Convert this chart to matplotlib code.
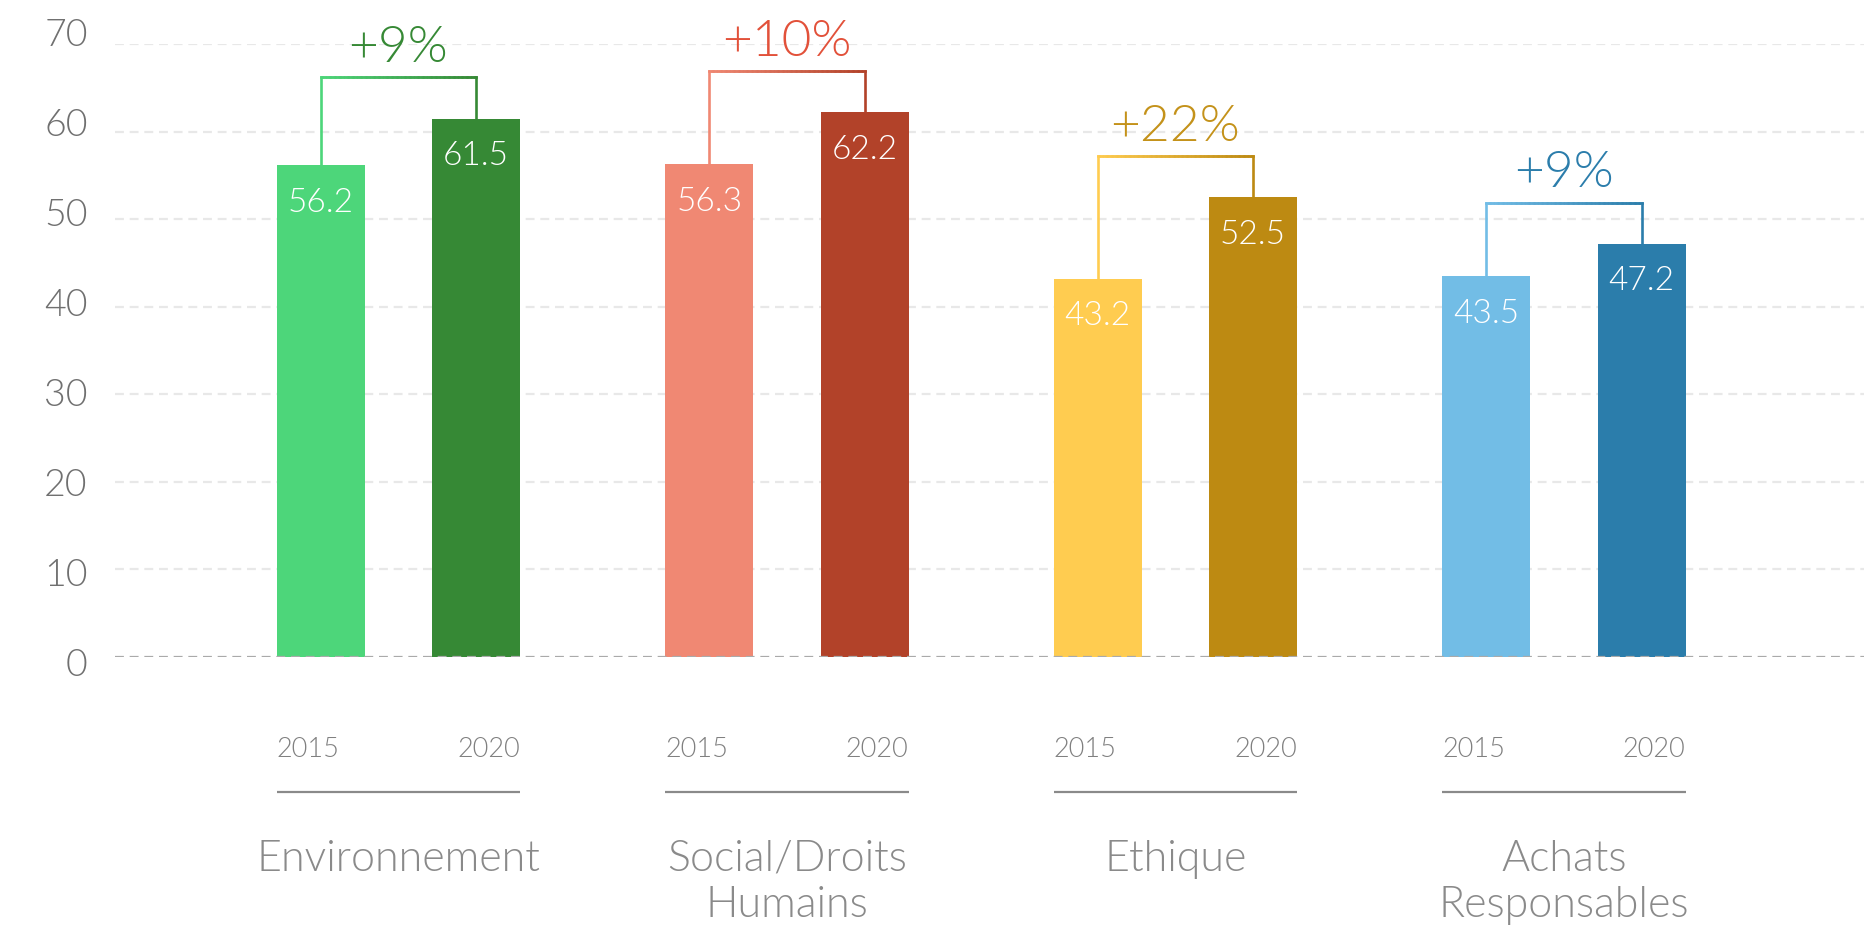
import matplotlib
matplotlib.use("Agg")
import matplotlib.pyplot as plt
import numpy as np
from matplotlib.collections import LineCollection
from matplotlib.colors import to_rgb

categories = ["Environnement", "Social/Droits\nHumains", "Ethique", "Achats\nResponsables"]
years = ["2015", "2020"]
values_2015 = [56.2, 56.3, 43.2, 43.5]
values_2020 = [61.5, 62.2, 52.5, 47.2]
growth_labels = ["+9%", "+10%", "+22%", "+9%"]
y_ticks = [0, 10, 20, 30, 40, 50, 60, 70]

light_colors = ["#4dd67a", "#f08873", "#ffcc50", "#72bde6"]
dark_colors = ["#368935", "#b24229", "#bd8a12", "#2b7dab"]
pct_colors = ["#368935", "#e2513a", "#c4921a", "#2b7dab"]

plt.rcParams['font.family'] = ['Lato', 'DejaVu Sans']
FW = 300

fig = plt.figure(figsize=(18.65, 9.28), dpi=100)
ax = fig.add_axes([115/1865, 1 - 657.7/928, 1 - 115/1865, (657.7 - 45.2)/928])
ax.set_xlim(-0.7297, 3.775)
ax.set_ylim(0, 70)
for s in ax.spines.values():
    s.set_visible(False)
ax.set_xticks([])
ax.set_yticks([])

grey_txt = "#707070"
# gridlines
for v in y_ticks:
    if v == 0:
        ax.axhline(v, color="#aaaaaa", lw=1.6, ls=(0, (4, 2.6)), zorder=3)
    else:
        ax.axhline(v, color="#e8e8e8", lw=1.6, ls=(0, (4, 2.6)), zorder=0)
    ax.text(-0.80, -0.95 + v * 1.029, str(v), ha="right", va="center",
            fontsize=27, color=grey_txt, fontweight=FW, clip_on=False)

x = np.arange(len(categories))
off = 0.2
w = 0.2265
b1 = ax.bar(x - off, values_2015, width=w, color=light_colors, zorder=2)
b2 = ax.bar(x + off, values_2020, width=w, color=dark_colors, zorder=2)

for i in range(len(categories)):
    for xx, val in ((x[i] - off, values_2015[i]), (x[i] + off, values_2020[i])):
        ax.text(xx, val - 4.2, f"{val:.1f}", ha="center", va="center",
                fontsize=24, color="white", fontweight=FW, zorder=4)
    # bracket
    yb = max(values_2015[i], values_2020[i]) + 4.7
    x1, x2 = x[i] - off, x[i] + off
    c1 = np.array(to_rgb(light_colors[i]))
    c2 = np.array(to_rgb(dark_colors[i]))
    segs, cols = [], []
    segs.append([(x1, values_2015[i]), (x1, yb)])
    cols.append(c1)
    n = 60
    xs = np.linspace(x1, x2, n + 1)
    for k in range(n):
        segs.append([(xs[k], yb), (xs[k + 1], yb)])
        t = (k + 0.5) / n
        cols.append(c1 * (1 - t) + c2 * t)
    segs.append([(x2, yb), (x2, values_2020[i])])
    cols.append(c2)
    lc = LineCollection(segs, colors=cols, linewidths=1.9, capstyle="projecting", zorder=1)
    ax.add_collection(lc)
    ax.text(x[i], yb + 3.5, growth_labels[i], ha="center", va="center",
            fontsize=37, color=pct_colors[i], fontweight=FW, clip_on=False)
    # year labels
    ax.text(x1 - w / 2, -10.5, years[0], ha="left", va="center", fontsize=19.5,
            color="#808080", fontweight=FW, clip_on=False)
    ax.text(x2 + w / 2, -10.5, years[1], ha="right", va="center", fontsize=19.5,
            color="#808080", fontweight=FW, clip_on=False)
    ax.plot([x1 - w / 2, x2 + w / 2], [-15.5, -15.5], color="#8a8a8a", lw=1.6,
            clip_on=False, solid_capstyle="butt")
    ax.text(x[i], -20.8, categories[i], ha="center", va="top", fontsize=31,
            color="#8a8a8a", fontweight=FW, linespacing=1.22, clip_on=False)

fig.savefig("out.png", dpi=100)
